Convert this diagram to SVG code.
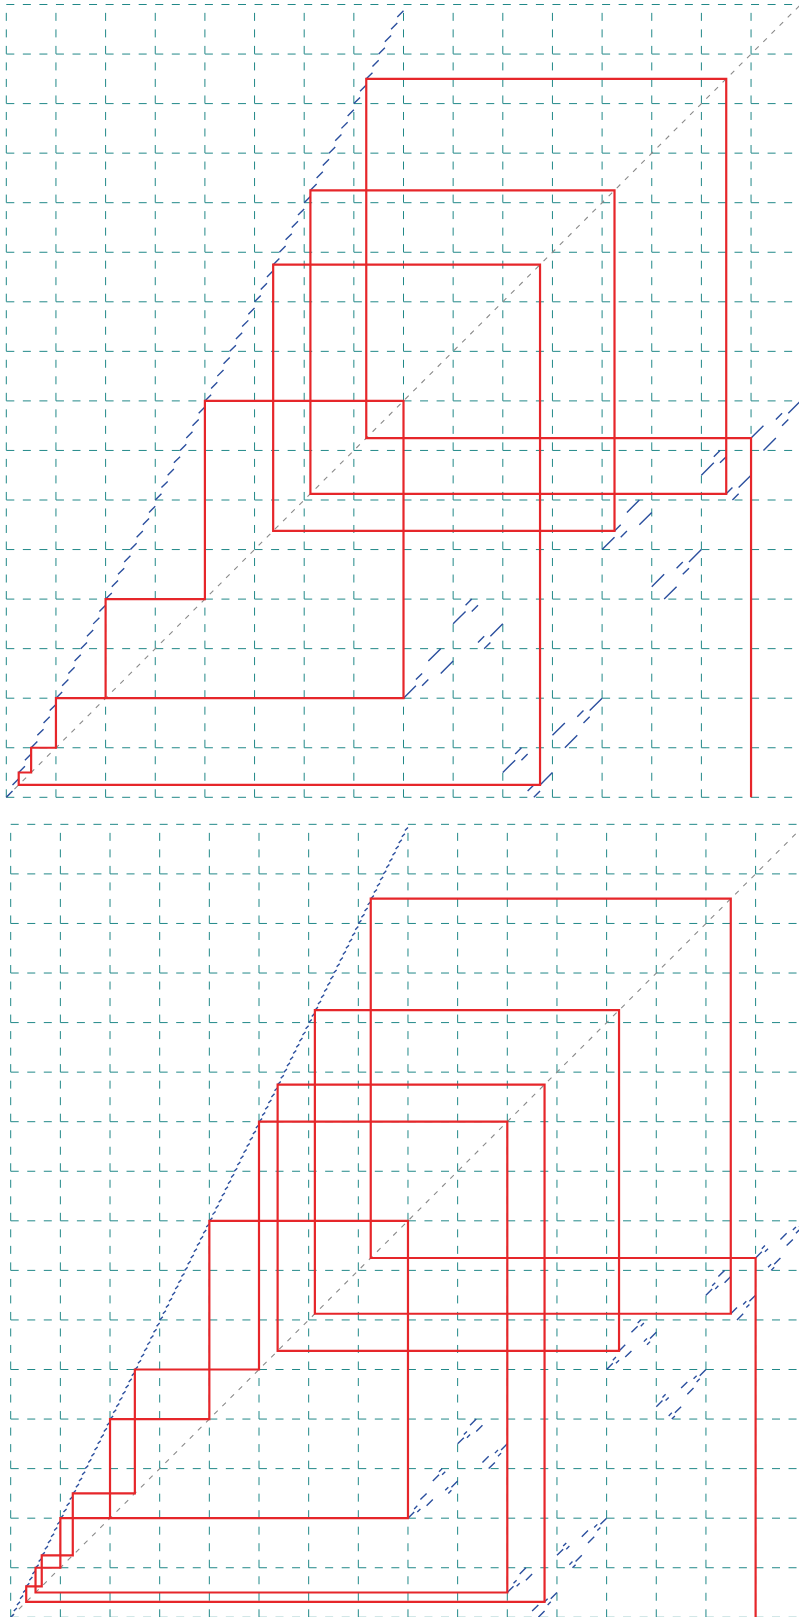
<svg xmlns="http://www.w3.org/2000/svg" width="799" height="1617" viewBox="0 0 799 1617">
<style>
.grid{stroke:#218888;stroke-width:1;fill:none}
.gh{stroke-dasharray:8 8.55}
.gv{stroke-dasharray:8 8.52}
.diag{stroke:#8a8a8a;stroke-width:1.1;stroke-dasharray:5 6.5;fill:none}
.blue{stroke:#2b4f9e;stroke-width:1.4;fill:none}
.red{stroke:#e6262a;stroke-width:2.2;fill:none;stroke-linejoin:miter}
</style>
<defs>
<path id="tL" d="M0 0l6.206 -6.194m0 -6.194l6.206 -6.194m0 -6.194l6.206 -6.194m0 -6.194l6.206 -6.194m0 -6.194l6.206 -6.194m0 -6.194l6.206 -6.194m0 -6.194l6.206 -6.194m0 -6.194l6.206 -6.194m0 -6.194"/>
<path id="bL" d="M0 0l3.104 -3.0975m0 -3.0975l3.104 -3.0975m0 -3.0975l3.104 -3.0975m0 -3.0975l3.104 -3.0975m0 -3.0975l3.104 -3.0975m0 -3.0975l3.104 -3.0975m0 -3.0975l3.104 -3.0975m0 -3.0975l3.104 -3.0975m0 -3.0975l3.104 -3.0975m0 -3.0975l3.104 -3.0975m0 -3.0975l3.104 -3.0975m0 -3.0975l3.104 -3.0975m0 -3.0975l3.104 -3.0975m0 -3.0975l3.104 -3.0975m0 -3.0975l3.104 -3.0975m0 -3.0975l3.104 -3.0975m0 -3.0975"/>
<path id="tP0" d="M0 0L12.41 -12.39M12.41 -18.58L18.62 -24.78M18.62 -12.39L24.83 -18.58M24.83 -37.16L37.24 -49.55M37.24 -24.78L49.65 -37.16"/>
<path id="tP1" d="M0 -24.78L12.41 -37.16M12.41 -43.36L18.62 -49.55M18.62 -37.16L24.83 -43.36M24.83 -6.19L31.03 -12.39M31.03 0L37.24 -6.19M37.24 -12.39L49.65 -24.78"/>
<path id="tP2" d="M0 -12.39L12.41 -24.78M12.41 0L24.83 -12.39M24.83 -30.97L31.03 -37.16M31.03 -24.78L37.24 -30.97M37.24 -37.16L49.65 -49.55"/>
<path id="bQ0" d="M0 0L6.21 -6.2M6.21 -9.29L9.31 -12.39M9.31 -6.2L12.42 -9.29M12.42 -18.59L18.62 -24.78M18.62 -12.39L24.83 -18.59M24.83 -37.17L31.04 -43.37M31.04 -46.46L34.14 -49.56M34.14 -43.37L37.25 -46.46M37.25 -27.88L40.35 -30.98M40.35 -24.78L43.45 -27.88M43.45 -30.98L49.66 -37.17"/>
<path id="bQ1" d="M0 -24.78L6.21 -30.98M6.21 -34.07L9.31 -37.17M9.31 -30.98L12.42 -34.07M12.42 -43.37L18.62 -49.56M18.62 -37.17L24.83 -43.37M24.83 -6.2L31.04 -12.39M31.04 0L37.25 -6.2M37.25 -15.49L40.35 -18.59M40.35 -12.39L43.45 -15.49M43.45 -18.59L49.66 -24.78"/>
<path id="bQ2" d="M0 -12.39L6.21 -18.59M6.21 -21.68L9.31 -24.78M9.31 -18.59L12.42 -21.68M12.42 -3.1L15.52 -6.2M15.52 0L18.62 -3.1M18.62 -6.2L24.83 -12.39M24.83 -30.98L31.04 -37.17M31.04 -24.78L37.25 -30.98M37.25 -40.27L40.35 -43.37M40.35 -37.17L43.45 -40.27M43.45 -43.37L49.66 -49.56"/>
</defs>
<rect width="799" height="1617" fill="#ffffff"/>

<g id="top-panel">
<path class="grid gh" d="M6.3 797.3H799M6.3 747.75H799M6.3 698.2H799M6.3 648.65H799M6.3 599.1H799M6.3 549.55H799M6.3 500H799M6.3 450.45H799M6.3 400.9H799M6.3 351.35H799M6.3 301.8H799M6.3 252.25H799M6.3 202.7H799M6.3 153.15H799M6.3 103.6H799M6.3 54.05H799M6.3 4.5H799"/>
<path class="grid gv" d="M6.3 797.3V4.5M55.95 797.3V4.5M105.6 797.3V4.5M155.25 797.3V4.5M204.9 797.3V4.5M254.55 797.3V4.5M304.2 797.3V4.5M353.85 797.3V4.5M403.5 797.3V4.5M453.15 797.3V4.5M502.8 797.3V4.5M552.45 797.3V4.5M602.1 797.3V4.5M651.75 797.3V4.5M701.4 797.3V4.5M751.05 797.3V4.5"/>
<path class="diag" d="M6.3 797.3L800.7 4.5"/>
<g class="blue">
<use href="#tL" x="6.3" y="797.3"/>
<use href="#tL" x="55.95" y="698.2"/>
<use href="#tL" x="105.6" y="599.1"/>
<use href="#tL" x="155.25" y="500"/>
<use href="#tL" x="204.9" y="400.9"/>
<use href="#tL" x="254.55" y="301.8"/>
<use href="#tL" x="304.2" y="202.7"/>
<use href="#tL" x="353.85" y="103.6"/>
<use href="#tP0" x="403.5" y="698.2"/>
<use href="#tP1" x="453.15" y="648.65"/>
<use href="#tP1" x="502.8" y="797.3"/>
<use href="#tP2" x="552.45" y="747.75"/>
<use href="#tP0" x="602.1" y="549.55"/>
<use href="#tP2" x="651.75" y="599.1"/>
<use href="#tP1" x="701.4" y="500"/>
<use href="#tP2" x="751.05" y="450.45"/>
</g>
<path class="red" d="M751.05 797.3V438.06H366.26V78.82H726.23V493.81H310.41V190.31H614.51V530.97H273.17V264.64H540.04V784.91H18.71V772.52H31.13V747.75H55.95V698.2H403.5V400.9H204.9V599.1H105.6V698.2"/>
</g>

<g id="bottom-panel">
<path class="grid gh" d="M10.7 1617.3H799M10.7 1567.74H799M10.7 1518.18H799M10.7 1468.62H799M10.7 1419.06H799M10.7 1369.5H799M10.7 1319.94H799M10.7 1270.38H799M10.7 1220.82H799M10.7 1171.26H799M10.7 1121.7H799M10.7 1072.14H799M10.7 1022.58H799M10.7 973.02H799M10.7 923.46H799M10.7 873.9H799M10.7 824.34H799"/>
<path class="grid gv" d="M10.7 1617.3V824.34M60.36 1617.3V824.34M110.02 1617.3V824.34M159.68 1617.3V824.34M209.34 1617.3V824.34M259 1617.3V824.34M308.66 1617.3V824.34M358.32 1617.3V824.34M407.98 1617.3V824.34M457.64 1617.3V824.34M507.3 1617.3V824.34M556.96 1617.3V824.34M606.62 1617.3V824.34M656.28 1617.3V824.34M705.94 1617.3V824.34M755.6 1617.3V824.34"/>
<path class="diag" d="M10.7 1617.3L805.3 824.34"/>
<g class="blue">
<use href="#bL" x="10.7" y="1617.3"/>
<use href="#bL" x="60.36" y="1518.18"/>
<use href="#bL" x="110.02" y="1419.06"/>
<use href="#bL" x="159.68" y="1319.94"/>
<use href="#bL" x="209.34" y="1220.82"/>
<use href="#bL" x="259" y="1121.7"/>
<use href="#bL" x="308.66" y="1022.58"/>
<use href="#bL" x="358.32" y="923.46"/>
<use href="#bQ0" x="407.98" y="1518.18"/>
<use href="#bQ1" x="457.64" y="1468.62"/>
<use href="#bQ1" x="507.3" y="1617.3"/>
<use href="#bQ2" x="556.96" y="1567.74"/>
<use href="#bQ0" x="606.62" y="1369.5"/>
<use href="#bQ2" x="656.28" y="1419.06"/>
<use href="#bQ1" x="705.94" y="1319.94"/>
<use href="#bQ2" x="755.6" y="1270.38"/>
</g>
<path class="red" d="M755.6 1617.3V1257.99H370.74V898.68H730.77V1313.74H314.87V1010.19H619.04V1350.91H277.62V1084.53H544.55V1601.81H26.22V1586.32H41.74V1555.35H72.78V1493.4H134.85V1369.5H259V1121.7H507.3V1592.52H35.53V1567.74H60.36V1518.18H407.98V1220.82H209.34V1419.06H110.02V1518.18"/>
</g>
</svg>
